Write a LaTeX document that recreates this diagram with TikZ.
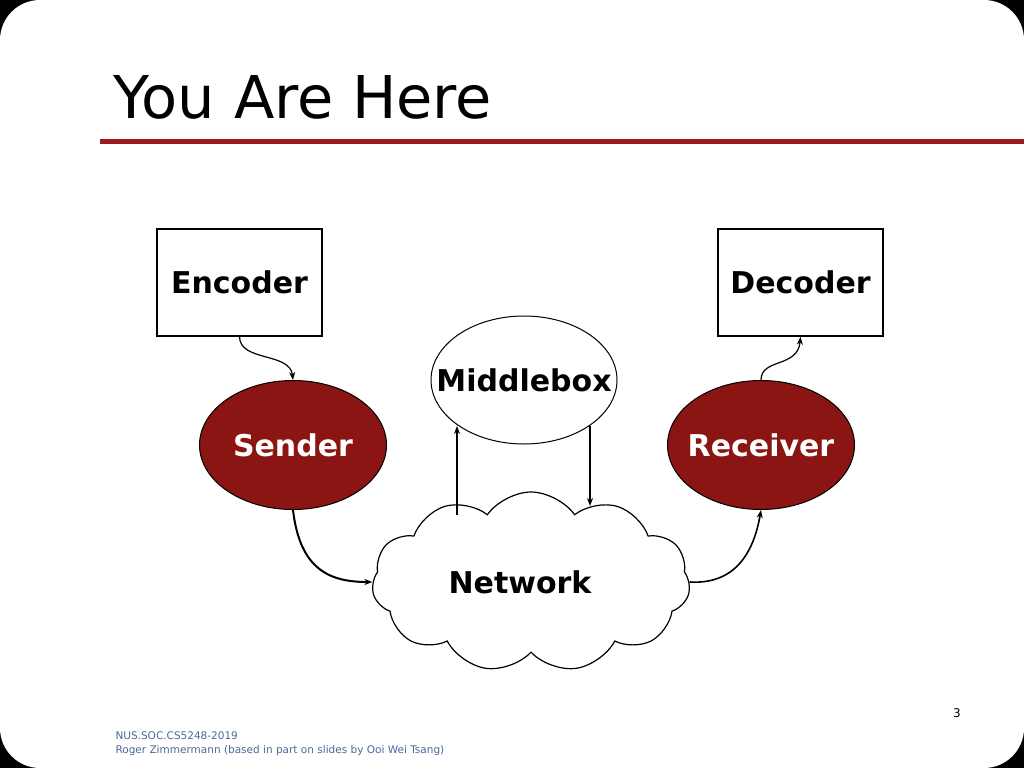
\documentclass[tikz,border=0pt]{standalone}
\usepackage{fontspec}
\setmainfont{DejaVu Sans}
\usetikzlibrary{shapes.geometric,shapes.symbols,arrows.meta}
\definecolor{dred}{HTML}{8B1512}
\definecolor{lred}{HTML}{9B1C1C}
\definecolor{foot}{HTML}{4A6A9A}
\begin{document}
\begin{tikzpicture}[x=1pt,y=-1pt,
  lbl/.style={font=\fontsize{30}{34}\selectfont\bfseries,inner sep=0pt},
  box/.style={draw,line width=1.5pt,minimum width=165pt,minimum height=107pt,font=\fontsize{30}{34}\selectfont\bfseries},
  redell/.style={ellipse,draw,line width=1pt,fill=dred,minimum width=187pt,minimum height=129pt,inner sep=0pt},
  conn/.style={-{Stealth[length=8pt,width=6pt]},line width=1.2pt}]
\fill (0,0) rectangle (1024,768);
\fill[white,rounded corners=40pt] (0,0) rectangle (1024,768);
\useasboundingbox (0,0) rectangle (1024,768);
\node[anchor=base west,font=\fontsize{59}{64}\selectfont] (title) at (110,118) {You Are Here};
\fill[lred] (100,139) rectangle (1024,144);
\node[box] (enc) at (239.5,282.5) {Encoder};
\node[box] (dec) at (800.5,282.5) {Decoder};
\node[ellipse,draw,line width=1pt,minimum width=186pt,minimum height=128pt,inner sep=0pt] (mid) at (524,380) {};
\node[lbl] (midt) at (mid.center) {Middlebox};
\node[redell] (snd) at (293,445) {};
\node[lbl,text=white] (sndt) at (snd.center) {Sender};
\node[redell] (rcv) at (761,445) {};
\node[lbl,text=white] (rcvt) at (rcv.center) {Receiver};
\node[cloud,draw,line width=1.2pt,cloud puffs=11,cloud puff arc=110,aspect=1.7,minimum width=318pt,minimum height=180pt,inner sep=0pt] (net) at (531,582) {};
\node[lbl] (nett) at (520,582) {Network};
\draw[conn] (enc.south) .. controls (240,362) and (290,352) .. (snd.north);
\draw[conn] (rcv.north) .. controls (761,358) and (798,368) .. (dec.south);
\coordinate (upb) at (457,515);
\coordinate (dnb) at (590,506);
\draw[conn,line width=1.5pt] (upb) -- (457,426);
\draw[conn,line width=1.5pt] (590,426) -- (dnb);
\draw[conn,line width=2pt] (snd.south) .. controls (300,570) and (330,582) .. (net.west);
\draw[conn,line width=1.6pt] (net.east) .. controls (740,585) and (755,545) .. (rcv.south);
\node[font=\fontsize{12}{14}\selectfont] (pg) at (957,713) {3};
\node[anchor=base west,font=\fontsize{10.5}{12}\selectfont,text=foot] (f1) at (112,739) {NUS.SOC.CS5248-2019};
\node[anchor=base west,font=\fontsize{10.5}{12}\selectfont,text=foot] (f2) at (112,753) {Roger Zimmermann (based in part on slides by Ooi Wei Tsang)};
\end{tikzpicture}
\end{document}
